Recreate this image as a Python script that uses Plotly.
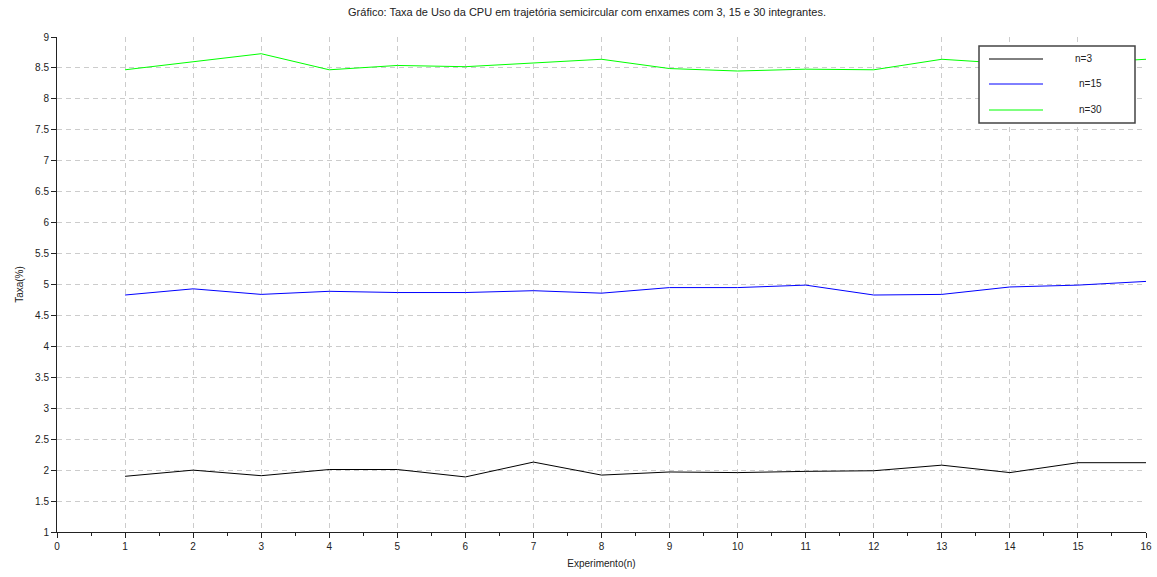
import plotly.graph_objects as go

experimentos = list(range(1, 17))
taxa_n3 = [1.90, 2.00, 1.91, 2.01, 2.01, 1.89, 2.13, 1.92, 1.97, 1.96, 1.98, 1.99, 2.08, 1.96, 2.12, 2.12]
taxa_n15 = [4.83, 4.93, 4.84, 4.89, 4.87, 4.87, 4.90, 4.86, 4.95, 4.95, 4.99, 4.83, 4.84, 4.96, 4.99, 5.05]
taxa_n30 = [8.47, 8.60, 8.73, 8.47, 8.54, 8.52, 8.58, 8.64, 8.49, 8.45, 8.48, 8.47, 8.64, 8.57, 8.58, 8.64]

series = [("n=3", taxa_n3, "#000000"), ("n=15", taxa_n15, "#0000ff"), ("n=30", taxa_n30, "#00ff00")]

FONT = "Liberation Sans, Arial, sans-serif"
W, H = 1157, 577
ML, MR, MT, MB = 57, 11, 37, 45
PW, PH = W - ML - MR, H - MT - MB


def px_x(px):
    return (px - ML) / PW


def px_y(py):
    return (H - MB - py) / PH


fig = go.Figure()
for nome, valores, cor in series:
    fig.add_trace(go.Scatter(
        x=experimentos, y=valores, mode="lines", name=nome,
        line=dict(color=cor, width=1), showlegend=False,
    ))

eixo_comum = dict(
    showline=True, linecolor="#222", linewidth=1,
    ticks="outside", ticklen=5, tickcolor="#222", tickwidth=1,
    showgrid=True, gridcolor="#cccccc", griddash="5px,4px", gridwidth=1,
    zeroline=False, mirror=False, automargin=False,
    tickfont=dict(family=FONT, size=10, color="#222"),
)

fig.update_xaxes(
    range=[0, 16], dtick=1, tick0=0,
    minor=dict(dtick=0.5, ticks="outside", ticklen=3, tickcolor="#222", showgrid=False),
    title=dict(text="Experimento(n)", font=dict(family=FONT, size=10, color="#222"), standoff=8),
    **eixo_comum,
)
fig.update_yaxes(
    range=[1, 9], dtick=0.5, tick0=1,
    title=dict(text="Taxa(%)", font=dict(family=FONT, size=10, color="#222"), standoff=9),
    **eixo_comum,
)

# legend box drawn on top of the plot area
shapes = [dict(
    type="rect", xref="paper", yref="paper",
    x0=px_x(979), x1=px_x(1135), y0=px_y(46), y1=px_y(123),
    fillcolor="white", line=dict(color="#444", width=1.5), layer="above",
)]
annotations = []
legenda_y = [59, 84, 110]
legenda_tx = [1073, 1077, 1077]
for (nome, _, cor), ly, tx in zip(series, legenda_y, legenda_tx):
    shapes.append(dict(
        type="line", xref="paper", yref="paper",
        x0=px_x(989), x1=px_x(1043), y0=px_y(ly), y1=px_y(ly),
        line=dict(color=cor, width=1), layer="above",
    ))
    annotations.append(dict(
        text=nome, xref="paper", yref="paper", x=px_x(tx), y=px_y(ly),
        xanchor="left", yanchor="middle", showarrow=False,
        font=dict(family=FONT, size=10, color="#222"),
    ))

fig.update_layout(
    width=W, height=H,
    margin=dict(l=ML, r=MR, t=MT, b=MB),
    paper_bgcolor="white", plot_bgcolor="white",
    title=dict(
        text="Gráfico: Taxa de Uso da CPU em trajetória semicircular com enxames com 3, 15 e 30 integrantes.",
        font=dict(family=FONT, size=11, color="#222"),
        x=587 / W, xref="container", xanchor="center",
        y=1 - 12 / H, yanchor="middle", yref="container",
    ),
    shapes=shapes,
    annotations=annotations,
    showlegend=False,
)

fig.write_html("out.html")
